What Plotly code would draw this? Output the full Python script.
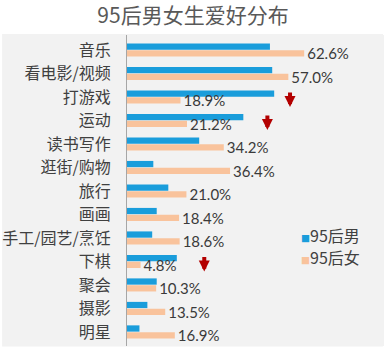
import plotly.graph_objects as go

categories = ["音乐", "看电影/视频", "打游戏", "运动", "读书写作", "逛街/购物", "旅行",
              "画画", "手工/园艺/烹饪", "下棋", "聚会", "摄影", "明星"]
male = [50.5, 51.3, 52.0, 41.1, 25.5, 9.3, 14.6, 10.5, 8.9, 17.6, 10.5, 7.2, 4.4]
female = [62.6, 57.0, 18.9, 21.2, 34.2, 36.4, 21.0, 18.4, 18.6, 4.8, 10.3, 13.5, 16.9]
series_names = ["95后男", "95后女"]
title_text = "95后男女生爱好分布"
# arrows: (x value, category index position of tip)
arrows = [(57.6, 2.42), (49.6, 3.40), (27.3, 9.43)]

BLUE = "#1a9ddb"
ORANGE = "#f9c39c"
GRAY_BG = "#f2f2f2"

fig = go.Figure()
fig.add_trace(go.Bar(
    y=categories, x=male, orientation="h", name=series_names[0],
    marker=dict(color=BLUE, line=dict(width=0)), showlegend=False,
))
fig.add_trace(go.Bar(
    y=categories, x=female, orientation="h", name=series_names[1],
    marker=dict(color=ORANGE, line=dict(width=0)), showlegend=False,
    text=[f"{v:.1f}%" for v in female], textposition="outside",
    constraintext="none",
    textfont=dict(family="Lato", size=15, color="#3a3a3a"), cliponaxis=False,
))

for ax_x, ax_y in arrows:
    fig.add_annotation(
        x=ax_x, y=ax_y, xref="x", yref="y", ax=0, ay=-16, text="",
        showarrow=True, arrowhead=2, arrowsize=0.55, arrowwidth=4,
        arrowcolor="#b30000",
    )

# legend as text
leg_y = [0.358, 0.287]
for name, col, ly in zip(series_names, [BLUE, ORANGE], leg_y):
    fig.add_annotation(
        x=0.67, y=ly, xref="paper", yref="paper", xanchor="left", yanchor="middle",
        showarrow=False,
        text=f"<span style='color:{col};font-size:9px'>■</span>{name}",
        font=dict(family="Noto Sans CJK SC", size=16, color="#404040"),
    )

fig.add_shape(type="rect", xref="paper", yref="paper",
              x0=-0.486, x1=0.996, y0=-0.002, y1=1.003,
              fillcolor=GRAY_BG, line=dict(width=0), layer="below")

fig.update_layout(
    width=386, height=349,
    margin=dict(l=127, r=2, t=35, b=3),
    paper_bgcolor="white", plot_bgcolor=GRAY_BG,
    barmode="group", bargap=0.42, bargroupgap=0.08,
    title=dict(text=title_text, x=0.5, xref="container", xanchor="center",
               y=1 - 16 / 349, yref="container", yanchor="middle",
               font=dict(family="Noto Sans CJK SC", size=21, color="#595959")),
    font=dict(family="Noto Sans CJK SC"),
)
fig.update_xaxes(range=[0, 90.8], visible=False, showgrid=False, zeroline=False)
fig.update_yaxes(
    categoryorder="array", categoryarray=categories,
    range=[12.6, -0.64], showgrid=False, zeroline=False,
    showline=True, linecolor="#a6a6a6", linewidth=1,
    ticks="", ticklabelstandoff=12,
    tickfont=dict(family="Noto Sans CJK SC", size=16, color="#404040"),
)

fig.write_html("out.html")
